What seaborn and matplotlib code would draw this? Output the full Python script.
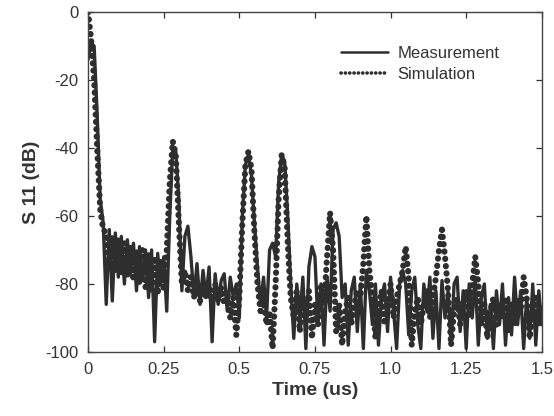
import numpy as np
import pandas as pd
import matplotlib
matplotlib.use("Agg")
import matplotlib.pyplot as plt
import seaborn as sns

# time axis (us), 0.01 us steps
time_us = [round(i * 0.01, 2) for i in range(151)]

measurement_db = [
    -14, -9, -10, -30, -55, -62, -86, -64, -85, -65,
    -78, -66, -80, -67, -77, -68, -82, -69, -79, -70,
    -84, -70, -97, -71, -80, -72, -88, -60, -40, -41,
    -55, -82, -66, -63, -72, -84, -74, -86, -76, -84,
    -75, -97, -77, -86, -79, -77, -88, -78, -84, -80,
    -90, -60, -45, -42, -48, -62, -75, -86, -78, -90,
    -70, -68, -72, -50, -42, -44, -60, -80, -96, -80,
    -90, -78, -99, -75, -69, -72, -92, -80, -98, -78,
    -88, -64, -62, -66, -84, -80, -98, -82, -78, -94,
    -80, -99, -76, -82, -92, -80, -98, -84, -80, -94,
    -78, -88, -99, -80, -76, -80, -95, -82, -78, -92,
    -99, -80, -88, -78, -96, -82, -99, -79, -90, -82,
    -98, -80, -78, -94, -82, -99, -80, -90, -78, -98,
    -84, -80, -96, -86, -99, -82, -92, -80, -98, -84,
    -95, -78, -92, -82, -99, -84, -96, -80, -98, -82,
    -92,
]

simulation_db = [
    0, -8, -20, -40, -58, -64, -65, -74, -66, -76,
    -67, -77, -68, -78, -69, -79, -70, -80, -70, -81,
    -71, -82, -72, -83, -73, -82, -70, -50, -38, -42,
    -62, -80, -76, -82, -78, -84, -79, -85, -80, -84,
    -81, -86, -80, -85, -81, -86, -82, -90, -84, -95,
    -84, -62, -45, -41, -46, -65, -80, -88, -84, -92,
    -88, -99, -80, -55, -42, -46, -68, -84, -90, -82,
    -94, -84, -90, -82, -96, -86, -92, -80, -86, -72,
    -59, -70, -94, -86, -98, -88, -84, -92, -86, -82,
    -84, -74, -60, -76, -84, -96, -88, -82, -92, -86,
    -80, -90, -84, -80, -76, -69, -78, -98, -88, -84,
    -92, -86, -82, -90, -84, -78, -70, -64, -72, -82,
    -98, -88, -84, -92, -86, -82, -90, -80, -72, -80,
    -92, -86, -96, -88, -84, -92, -86, -90, -84, -94,
    -86, -92, -84, -88, -78, -84, -96, -88, -84, -92,
    -86,
]

x_ticks = [0, 0.25, 0.5, 0.75, 1.0, 1.25, 1.5]
x_tick_labels = ["0", "0.25", "0.5", "0.75", "1.0", "1.25", "1.5"]
y_ticks = [0, -20, -40, -60, -80, -100]
y_tick_labels = ["0", "-20", "-40", "-60", "-80", "-100"]

sns.set_style("ticks")
plt.rcParams["font.family"] = ["Liberation Sans", "DejaVu Sans"]

df = pd.DataFrame({
    "time": time_us * 2,
    "s11": measurement_db + simulation_db,
    "series": ["Measurement"] * len(time_us) + ["Simulation"] * len(time_us),
})

fig = plt.figure(figsize=(5.54, 4.16), dpi=100)
ax = fig.add_axes([0.159, 0.154, 0.819, 0.817])

col = "#2e2e2e"
sns.lineplot(data=df[df.series == "Measurement"], x="time", y="s11", ax=ax,
             color=col, lw=2.4, label="Measurement", estimator=None)
sns.lineplot(data=df[df.series == "Simulation"], x="time", y="s11", ax=ax,
             color=col, lw=4.4, label="Simulation", estimator=None,
             linestyle=(0, (0.05, 1.15)))
for ln in ax.get_lines():
    ln.set_dash_capstyle("round")
    ln.set_solid_joinstyle("round")

ax.set_xlim(0, 1.5)
ax.set_ylim(-100, 0)
ax.set_xticks(x_ticks)
ax.set_xticklabels(x_tick_labels)
ax.set_yticks(y_ticks)
ax.set_yticklabels(y_tick_labels)
ax.tick_params(direction="in", top=True, right=True, length=4, width=0.9,
               labelsize=12, colors="#333333", pad=7)
for s in ax.spines.values():
    s.set_linewidth(1.0)
    s.set_color("#444444")

ax.set_xlabel("Time (us)", fontsize=14, fontweight="bold", color="#333333")
ax.set_ylabel("S 11 (dB)", fontsize=14, fontweight="bold", color="#333333")

leg = ax.legend(loc="upper right", frameon=False, fontsize=12,
                bbox_to_anchor=(0.94, 0.944), handlelength=2.8,
                labelspacing=0.35, handletextpad=0.6)
for h in leg.get_lines():
    h.set_linewidth(1.8)
leg.get_lines()[1].set_linewidth(2.6)
for t in leg.get_texts():
    t.set_color("#333333")

fig.savefig("out.png", dpi=100)
